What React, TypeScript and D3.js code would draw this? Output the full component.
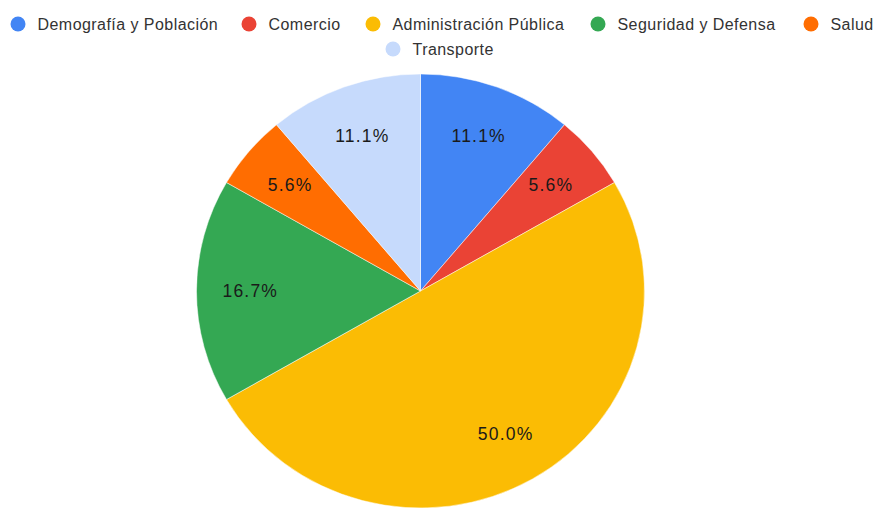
import { useMemo } from 'react';
import * as d3 from 'd3';

const categories = ['Demografía y Población', 'Comercio', 'Administración Pública', 'Seguridad y Defensa', 'Salud', 'Transporte'];
const values = [2, 1, 9, 3, 1, 2];
const colors = ['#4285f4', '#ea4335', '#fbbc04', '#34a853', '#ff6d01', '#c6dafc'];

// legend layout: row index and x of the dot for each entry
const legendRow = [0, 0, 0, 0, 0, 1];
const legendX = [18, 249, 373, 598, 811, 393];

const W = 878;
const H = 508;
const cx = 420.5;
const cy = 291;
const rx = 224;
const ry = 217;

export default function App() {
  const arcs = useMemo(() => {
    const pie = d3.pie<number>().sort(null).value(d => d);
    return pie(values);
  }, []);

  // draw a unit-ish circle of radius rx, then squash vertically
  const arc = d3.arc<d3.PieArcDatum<number>>().innerRadius(0).outerRadius(rx);
  const labelArc = d3.arc<d3.PieArcDatum<number>>().innerRadius(rx * 0.76).outerRadius(rx * 0.76);
  const total = d3.sum(values);
  const sy = ry / rx;

  return (
    <svg width={W} height={H} style={{ position: 'absolute', left: 0, top: 0, fontFamily: 'Arial, "Liberation Sans", sans-serif' }}>
      <rect width={W} height={H} fill="#fff" />
      <g transform={`translate(${cx},${cy}) scale(1,${sy})`}>
        {arcs.map((a, i) => (
          <path key={i} d={arc(a) || ''} fill={colors[i]} stroke="#fff" strokeWidth={0.5} />
        ))}
      </g>
      <g transform={`translate(${cx},${cy})`}>
        {arcs.map((a, i) => {
          const [x, y] = labelArc.centroid(a);
          return (
            <text key={'l' + i} x={x} y={y * sy} dy="0.35em" textAnchor="middle" fontSize={17.5} letterSpacing={1.2} fill="#1a1a1a">
              {((values[i] / total) * 100).toFixed(1) + '%'}
            </text>
          );
        })}
      </g>
      <g>
        {categories.map((c, i) => (
          <g key={c} transform={`translate(${legendX[i]},${24 + legendRow[i] * 25})`}>
            <circle r={7.5} fill={colors[i]} />
            <text x={19.5} dy="0.35em" fontSize={16} letterSpacing={0.45} fill="#333">{c}</text>
          </g>
        ))}
      </g>
    </svg>
  );
}
